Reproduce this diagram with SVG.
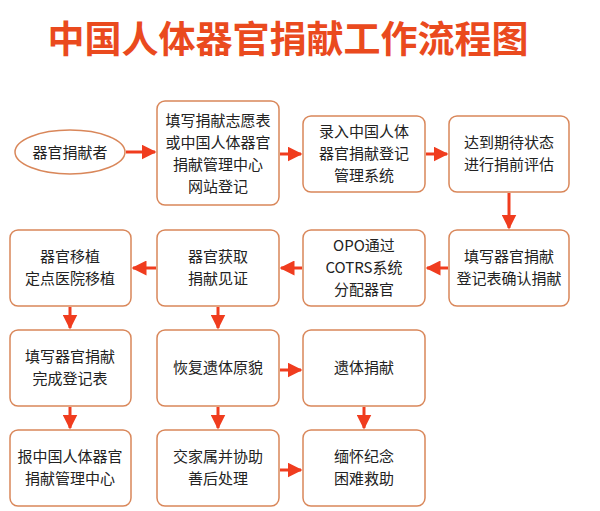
<svg xmlns="http://www.w3.org/2000/svg" width="600" height="511" viewBox="0 0 600 511">
<defs>
<marker id="ah" viewBox="0 0 10 10" refX="9" refY="5" markerWidth="5" markerHeight="5" orient="auto"><path d="M0,0 L10,5 L0,10 z" fill="#f03c1e"/></marker>
</defs>
<style>
.b{fill:#fff;stroke:#d9875a;stroke-width:1.5}
text{font-family:"Noto Sans CJK SC","Liberation Sans",sans-serif;font-size:15px;fill:#222;text-anchor:middle}
.c line{stroke:#f03c1e;stroke-width:3;marker-end:url(#ah)}
</style>
<rect width="600" height="511" fill="#fff"/>
<text x="288" y="53" style="font-size:37px;font-weight:bold;fill:#ea4a1e">中国人体器官捐献工作流程图</text>
<g id="n0"><ellipse class="b" cx="70" cy="152" rx="55" ry="22"/><text x="70" y="158">器官捐献者</text></g>
<g id="n1"><rect class="b" x="157" y="101" width="122" height="104" rx="8"/><text x="218" y="126">填写捐献志愿表</text><text x="218" y="148">或中国人体器官</text><text x="218" y="170">捐献管理中心</text><text x="218" y="192">网站登记</text></g>
<g id="n2"><rect class="b" x="303" y="116" width="122" height="76" rx="8"/><text x="364" y="137">录入中国人体</text><text x="364" y="159">器官捐献登记</text><text x="364" y="181">管理系统</text></g>
<g id="n3"><rect class="b" x="449" y="116" width="120" height="76" rx="8"/><text x="509" y="148">达到期待状态</text><text x="509" y="170">进行捐前评估</text></g>
<g id="n4"><rect class="b" x="449" y="230" width="120" height="76" rx="8"/><text x="509" y="262">填写器官捐献</text><text x="509" y="284">登记表确认捐献</text></g>
<g id="n5"><rect class="b" x="303" y="230" width="122" height="76" rx="8"/><text x="364" y="251">OPO通过</text><text x="364" y="273">COTRS系统</text><text x="364" y="295">分配器官</text></g>
<g id="n6"><rect class="b" x="157" y="230" width="122" height="76" rx="8"/><text x="218" y="262">器官获取</text><text x="218" y="284">捐献见证</text></g>
<g id="n7"><rect class="b" x="10" y="230" width="121" height="76" rx="8"/><text x="70" y="262">器官移植</text><text x="70" y="284">定点医院移植</text></g>
<g id="n8"><rect class="b" x="10" y="330" width="121" height="76" rx="8"/><text x="70" y="362">填写器官捐献</text><text x="70" y="384">完成登记表</text></g>
<g id="n9"><rect class="b" x="157" y="330" width="122" height="76" rx="8"/><text x="218" y="373">恢复遗体原貌</text></g>
<g id="n10"><rect class="b" x="303" y="330" width="122" height="76" rx="8"/><text x="364" y="373">遗体捐献</text></g>
<g id="n11"><rect class="b" x="10" y="430" width="121" height="76" rx="8"/><text x="70" y="462">报中国人体器官</text><text x="70" y="484">捐献管理中心</text></g>
<g id="n12"><rect class="b" x="157" y="430" width="122" height="76" rx="8"/><text x="218" y="462">交家属并协助</text><text x="218" y="484">善后处理</text></g>
<g id="n13"><rect class="b" x="303" y="430" width="122" height="76" rx="8"/><text x="364" y="462">缅怀纪念</text><text x="364" y="484">困难救助</text></g>
<g class="c">
<line x1="126" y1="152" x2="155" y2="152"/>
<line x1="280" y1="154" x2="301" y2="154"/>
<line x1="426" y1="154" x2="447" y2="154"/>
<line x1="509" y1="193" x2="509" y2="228"/>
<line x1="448" y1="268" x2="427" y2="268"/>
<line x1="302" y1="268" x2="281" y2="268"/>
<line x1="156" y1="268" x2="133" y2="268"/>
<line x1="70" y1="307" x2="70" y2="328"/>
<line x1="218" y1="307" x2="218" y2="328"/>
<line x1="280" y1="370" x2="301" y2="370"/>
<line x1="70" y1="407" x2="70" y2="428"/>
<line x1="218" y1="407" x2="218" y2="428"/>
<line x1="364" y1="407" x2="364" y2="428"/>
<line x1="280" y1="470" x2="301" y2="470"/>
</g>
</svg>
